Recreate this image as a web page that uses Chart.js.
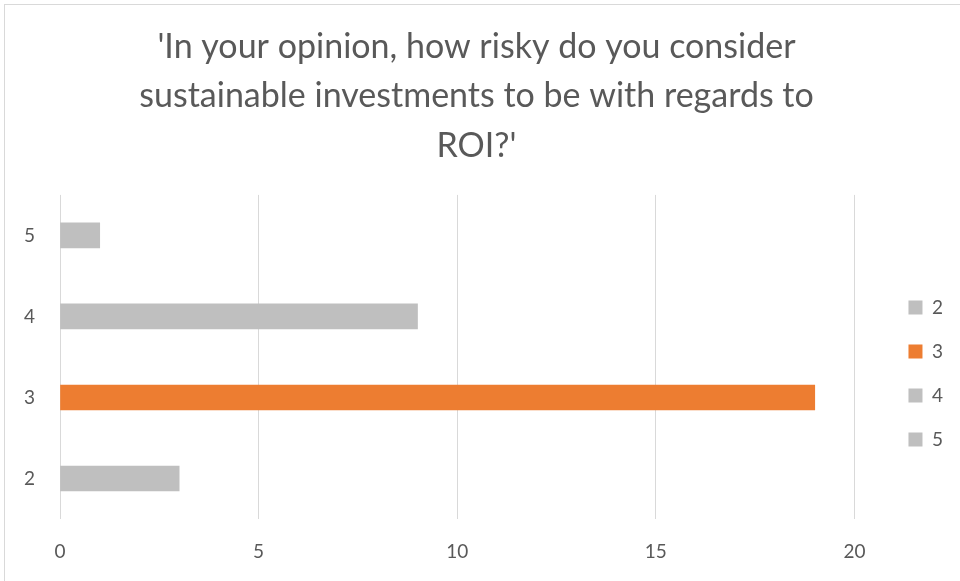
<!DOCTYPE html>
<html>
<head>
<meta charset="utf-8">
<script src="https://cdn.jsdelivr.net/npm/chart.js@4.4.1/dist/chart.umd.min.js"></script>
<style>
    html, body { margin: 0; padding: 0; background: #fff; overflow: hidden; }
    #frame {
        position: absolute; left: 4px; top: 4px;
        width: 980px; height: 600px;
        border: 1px solid #d9d9d9;
    }
    #wrap { position: absolute; left: 0; top: 0; width: 960px; height: 581px; }
</style>
</head>
<body>
<div id="frame"></div>
<div id="wrap"><canvas id="bar_chart"></canvas></div>
<script>
// respuestas por nivel de riesgo
var niveles = ['2', '3', '4', '5'];
var respuestas = [3, 19, 9, 1];
var colores = ['#bfbfbf', '#ed7d31', '#bfbfbf', '#bfbfbf'];
var xTicks = [0, 5, 10, 15, 20];

var titulo = [
    "'In your opinion, how risky do you consider",
    "sustainable investments to be with regards to",
    "ROI?'"
];

var fuente = "Lato, 'Open Sans', sans-serif";
var gris = '#595959';

new Chart(document.getElementById("bar_chart").getContext("2d"), {
    type: 'bar',
    data: {
        labels: niveles,
        datasets: [{
            label: 'Respuestas',
            data: respuestas,
            backgroundColor: colores,
            barThickness: 25
        }]
    },
    options: {
        indexAxis: 'y',
        responsive: true,
        maintainAspectRatio: false,
        animation: false,
        layout: {
            padding: { left: 0, right: 7, top: 0, bottom: 0 }
        },
        plugins: {
            title: {
                display: true,
                text: titulo,
                color: gris,
                font: { family: fuente, size: 34, weight: 'normal', lineHeight: 1.46 },
                padding: { top: 22, bottom: 24 }
            },
            legend: {
                display: true,
                position: 'right',
                fullSize: false,
                // titulo vacio: solo baja un poco la leyenda
                title: { display: true, text: ' ', font: { size: 13, lineHeight: 1 }, padding: 10 },
                labels: {
                    color: gris,
                    font: { family: fuente, size: 19 },
                    boxWidth: 14,
                    boxHeight: 14,
                    padding: 25,
                    generateLabels: function (chart) {
                        var ds = chart.data.datasets[0];
                        return chart.data.labels.map(function (l, i) {
                            return {
                                text: l,
                                fillStyle: ds.backgroundColor[i],
                                strokeStyle: ds.backgroundColor[i],
                                fontColor: gris,
                                lineWidth: 0,
                                index: i
                            };
                        });
                    }
                }
            },
            tooltip: { enabled: false }
        },
        scales: {
            x: {
                min: 0,
                max: 20,
                afterBuildTicks: function (axis) {
                    axis.ticks = xTicks.map(function (v) { return { value: v }; });
                },
                afterFit: function (axis) { axis.height = 62; },
                grid: { color: '#d9d9d9', lineWidth: 1, drawTicks: false },
                border: { display: false },
                ticks: {
                    color: gris,
                    padding: 21,
                    font: { family: fuente, size: 19 }
                }
            },
            y: {
                reverse: true,
                afterFit: function (axis) { axis.width = 60; },
                grid: { display: false, drawTicks: false },
                border: { display: false },
                ticks: {
                    color: gris,
                    padding: 25,
                    font: { family: fuente, size: 19 }
                }
            },
            // eje vacio a la derecha, deja aire antes de la leyenda
            y2: {
                type: 'category',
                labels: niveles,
                position: 'right',
                afterFit: function (axis) { axis.width = 29; },
                grid: { display: false, drawTicks: false },
                border: { display: false },
                ticks: { display: false }
            }
        }
    }
});
</script>
</body>
</html>
